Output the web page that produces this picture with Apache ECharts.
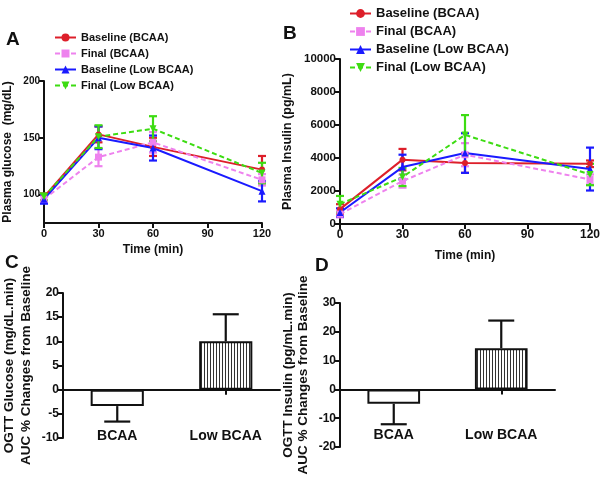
<!DOCTYPE html>
<html><head><meta charset="utf-8">
<script src="https://cdn.jsdelivr.net/npm/echarts@6/dist/echarts.min.js"></script>
<style>html,body{margin:0;padding:0;background:#fff}#c{width:605px;height:481px}</style>
</head><body><div id="c"></div>
<script>
// ---- data ----
const times = [0, 30, 60, 120];
const seriesNames = ['Baseline (BCAA)', 'Final (BCAA)', 'Baseline (Low BCAA)', 'Final (Low BCAA)'];
// Panel A: plasma glucose (mg/dL)
const glcBaseBCAA = [98, 153, 142, 122];
const glcBaseBCAAErr = [3, 7, 8, 12];
const glcFinalBCAA = [96, 133, 146, 113];
const glcFinalBCAAErr = [3, 8, 9, 5];
const glcBaseLow = [96, 150, 141, 103];
const glcBaseLowErr = [4, 10, 11, 9];
const glcFinalLow = [98, 151, 158, 119];
const glcFinalLowErr = [3, 10, 11, 9];
// Panel B: plasma insulin (pg/mL)
const insBaseBCAA = [900, 3900, 3700, 3650];
const insBaseBCAAErr = [300, 650, 600, 200];
const insFinalBCAA = [600, 2600, 4200, 2700];
const insFinalBCAAErr = [200, 400, 700, 300];
const insBaseLow = [700, 3450, 4300, 3330];
const insBaseLowErr = [250, 750, 1200, 1300];
const insFinalLow = [1200, 2850, 5400, 3000];
const insFinalLowErr = [500, 550, 1200, 650];
// Panels C, D: AUC % change from baseline
const groups = ['BCAA', 'Low BCAA'];
const aucGlucose = [-3.4, 10];
const aucGlucoseErr = [3.2, 5.6];
const aucInsulin = [-5, 14.3];
const aucInsulinErr = [7.1, 9.6];
const glcTicks = [100, 150, 200];

// ---- styling ----
const colors = ['#dd1f2a', '#ee82ee', '#1a1aff', '#3ddc12'];
const symbols = ['circle', 'rect', 'triangle', 'path://M0,0 L10,0 L5,9 Z'];
const dashed = [false, true, false, true];
const FONT = '"Liberation Sans", Arial, sans-serif';

const chart = echarts.init(document.getElementById('c'), null, {renderer: 'canvas'});

function errSeries(xs, ys, es, color, xi, yi) {
  return {
    type: 'custom', xAxisIndex: xi, yAxisIndex: yi, z: 3, silent: true,
    data: xs.map((x, i) => [x, ys[i], es[i]]),
    encode: {x: 0, y: 1},
    renderItem: function (params, api) {
      const x = api.value(0), y = api.value(1), e = api.value(2);
      const p1 = api.coord([x, y + e]), p2 = api.coord([x, y - e]);
      const w = 4;
      const st = {stroke: color, lineWidth: 2.2};
      return {type: 'group', children: [
        {type: 'line', shape: {x1: p1[0], y1: p1[1], x2: p2[0], y2: p2[1]}, style: st},
        {type: 'line', shape: {x1: p1[0] - w, y1: p1[1], x2: p1[0] + w, y2: p1[1]}, style: st},
        {type: 'line', shape: {x1: p2[0] - w, y1: p2[1], x2: p2[0] + w, y2: p2[1]}, style: st}
      ]};
    }
  };
}
function lineSeries(name, ys, k, xi, yi) {
  return {
    name: name, type: 'line', xAxisIndex: xi, yAxisIndex: yi, z: 4,
    data: times.map((t, i) => [t, ys[i]]),
    symbol: symbols[k], symbolSize: k === 0 ? 6 : 7,
    itemStyle: {color: colors[k]},
    lineStyle: {color: colors[k], width: 2, type: dashed[k] ? [5, 3] : 'solid'}
  };
}
function barErr(vals, errs, xi, yi) {
  return {
    type: 'custom', xAxisIndex: xi, yAxisIndex: yi, z: 1, silent: true,
    data: vals.map((v, i) => [i, v, errs[i]]),
    encode: {x: 0, y: 1},
    renderItem: function (params, api) {
      const i = api.value(0), v = api.value(1), e = api.value(2);
      const end = v + (v < 0 ? -e : e);
      const p1 = api.coord([i, v]), p2 = api.coord([i, end]);
      const st = {stroke: '#111', lineWidth: 2.2};
      return {type: 'group', children: [
        {type: 'line', shape: {x1: p1[0], y1: p1[1], x2: p2[0], y2: p2[1]}, style: st},
        {type: 'line', shape: {x1: p2[0] - 13, y1: p2[1], x2: p2[0] + 13, y2: p2[1]}, style: st}
      ]};
    }
  };
}

// vertical hatch pattern
const pc = document.createElement('canvas');
pc.width = 3; pc.height = 3;
const pctx = pc.getContext('2d');
pctx.fillStyle = '#fff'; pctx.fillRect(0, 0, 3, 3);
pctx.fillStyle = '#333'; pctx.fillRect(0, 0, 1, 3);
const hatch = {image: pc, repeat: 'repeat'};

function barSeries(vals, xi, yi) {
  return {
    type: 'bar', xAxisIndex: xi, yAxisIndex: yi, barWidth: '49%', z: 2,
    data: vals.map((v, i) => ({value: v, itemStyle: {color: i === 0 ? '#fff' : hatch, borderColor: '#111', borderWidth: 2}}))
  };
}

const axLine = {lineStyle: {color: '#111', width: 2}};
const axTick = {show: true, length: 5, lineStyle: {color: '#111', width: 2}};
const lbl = (sz) => ({color: '#111', fontWeight: 'bold', fontFamily: FONT, fontSize: sz});
const nameSt = (sz) => ({color: '#111', fontWeight: 'bold', fontFamily: FONT, fontSize: sz});
const plain = (v) => String(v);
const letter = (t, x, y) => ({text: t, left: x, top: y, padding: 0,
  textStyle: {fontSize: 19, fontWeight: 'bold', fontFamily: FONT, color: '#111'}});

const option = {
  animation: false,
  backgroundColor: '#fff',
  textStyle: {fontFamily: FONT},
  grid: [
    {left: 44, top: 81, width: 218, height: 142},
    {left: 340, top: 59, width: 250, height: 165},
    {left: 61, top: 293, width: 219, height: 145},
    {left: 340, top: 303, width: 215, height: 144}
  ],
  legend: [
    {orient: 'vertical', left: 49, top: 27, itemWidth: 21, itemHeight: 10, itemGap: 5,
     data: seriesNames, textStyle: lbl(11), selectedMode: false},
    {orient: 'vertical', left: 344, top: 2, itemWidth: 21, itemHeight: 11, itemGap: 5,
     data: seriesNames, textStyle: lbl(13), selectedMode: false}
  ],
  title: [
    letter('A', 6, 30),
    letter('B', 283, 24),
    letter('C', 5, 253),
    letter('D', 315, 256)
  ],
  xAxis: [
    {gridIndex: 0, type: 'value', min: 0, max: 120, interval: 30, splitLine: {show: false},
     axisLine: {onZero: false, ...axLine}, axisTick: axTick, axisLabel: {...lbl(11), margin: 5},
     name: 'Time (min)', nameLocation: 'middle', nameGap: 21, nameTextStyle: nameSt(12)},
    {gridIndex: 1, type: 'value', min: 0, max: 120, interval: 30, splitLine: {show: false},
     axisLine: {onZero: false, ...axLine}, axisTick: axTick, axisLabel: {...lbl(12), margin: 5},
     name: 'Time (min)', nameLocation: 'middle', nameGap: 26, nameTextStyle: nameSt(12)},
    {gridIndex: 2, type: 'category', data: groups, axisLine: {onZero: true, ...axLine},
     axisTick: {...axTick, alignWithLabel: true}, axisLabel: {show: false}},
    {gridIndex: 3, type: 'category', data: groups, axisLine: {onZero: true, ...axLine},
     axisTick: {...axTick, alignWithLabel: true}, axisLabel: {show: false}},
    {gridIndex: 2, type: 'category', data: groups, position: 'bottom', offset: -9,
     axisLine: {show: false, onZero: false}, axisTick: {show: false}, axisLabel: {...lbl(14), margin: 0}},
    {gridIndex: 3, type: 'category', data: groups, position: 'bottom', offset: -19,
     axisLine: {show: false, onZero: false}, axisTick: {show: false}, axisLabel: {...lbl(14), margin: 0}}
  ],
  yAxis: [
    {gridIndex: 0, type: 'value', min: 75, max: 200, splitLine: {show: false},
     axisLine: {show: true, ...axLine},
     axisTick: {...axTick, customValues: glcTicks},
     axisLabel: {...lbl(10), margin: 4, customValues: glcTicks, formatter: plain},
     name: 'Plasma glucose  (mg/dL)', nameLocation: 'middle', nameGap: 30, nameTextStyle: nameSt(12)},
    {gridIndex: 1, type: 'value', min: 0, max: 10000, interval: 2000, splitLine: {show: false},
     axisLine: {show: true, ...axLine}, axisTick: axTick, axisLabel: {...lbl(11.5), margin: 4, formatter: plain},
     name: 'Plasma Insulin (pg/mL)', nameLocation: 'middle', nameGap: 46, nameTextStyle: nameSt(12.5)},
    {gridIndex: 2, type: 'value', min: -10, max: 20, interval: 5, splitLine: {show: false},
     axisLine: {show: true, ...axLine}, axisTick: axTick, axisLabel: {...lbl(12), margin: 4, formatter: plain},
     name: 'OGTT Glucose (mg/dL.min)\nAUC % Changes from Baseline', nameLocation: 'middle', nameGap: 28,
     nameTextStyle: {...nameSt(13.5), lineHeight: 17}},
    {gridIndex: 3, type: 'value', min: -20, max: 30, interval: 10, splitLine: {show: false},
     axisLine: {show: true, ...axLine}, axisTick: axTick, axisLabel: {...lbl(12), margin: 4, formatter: plain},
     name: 'OGTT Insulin (pg/mL.min)\nAUC % Changes from Baseline', nameLocation: 'middle', nameGap: 29,
     nameTextStyle: {...nameSt(13.5), lineHeight: 15}}
  ],
  series: [
    errSeries(times, glcBaseBCAA, glcBaseBCAAErr, colors[0], 0, 0),
    errSeries(times, glcFinalBCAA, glcFinalBCAAErr, colors[1], 0, 0),
    errSeries(times, glcBaseLow, glcBaseLowErr, colors[2], 0, 0),
    errSeries(times, glcFinalLow, glcFinalLowErr, colors[3], 0, 0),
    lineSeries(seriesNames[0], glcBaseBCAA, 0, 0, 0),
    lineSeries(seriesNames[1], glcFinalBCAA, 1, 0, 0),
    lineSeries(seriesNames[2], glcBaseLow, 2, 0, 0),
    lineSeries(seriesNames[3], glcFinalLow, 3, 0, 0),
    errSeries(times, insBaseBCAA, insBaseBCAAErr, colors[0], 1, 1),
    errSeries(times, insFinalBCAA, insFinalBCAAErr, colors[1], 1, 1),
    errSeries(times, insBaseLow, insBaseLowErr, colors[2], 1, 1),
    errSeries(times, insFinalLow, insFinalLowErr, colors[3], 1, 1),
    lineSeries(seriesNames[0], insBaseBCAA, 0, 1, 1),
    lineSeries(seriesNames[1], insFinalBCAA, 1, 1, 1),
    lineSeries(seriesNames[2], insBaseLow, 2, 1, 1),
    lineSeries(seriesNames[3], insFinalLow, 3, 1, 1),
    barSeries(aucGlucose, 2, 2),
    barErr(aucGlucose, aucGlucoseErr, 2, 2),
    barSeries(aucInsulin, 3, 3),
    barErr(aucInsulin, aucInsulinErr, 3, 3)
  ]
};
chart.setOption(option);
</script>
</body></html>
